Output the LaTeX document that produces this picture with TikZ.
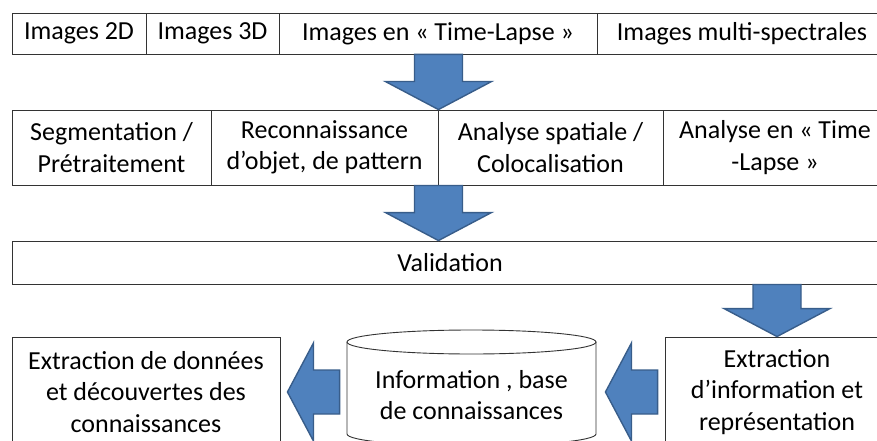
\documentclass[tikz,border=0pt]{standalone}
\usepackage{fontspec}
\setmainfont{Carlito}
\usetikzlibrary{calc}

\definecolor{arrowblue}{HTML}{4F81BD}
\definecolor{arrowedge}{HTML}{385D8A}

\tikzset{
    box/.style={rectangle, draw=black!80, line width=0.9pt, fill=white,
        inner sep=0pt, align=center, font=\fontsize{26}{31.5}\selectfont},
    flow/.style={fill=arrowblue, draw=arrowedge, line width=1.4pt, line join=miter},
}

% block arrows: #1 = tail, #2 = tip
\newcommand{\flowdown}[2]{%
    \filldraw[flow] ($(#1)+(-24,0)$) -- ($(#1)+(24,0)$) -- ($(#2)+(24,-28)$)
        -- ($(#2)+(53,-28)$) -- (#2) -- ($(#2)+(-53,-28)$) -- ($(#2)+(-24,-28)$) -- cycle;}
\newcommand{\flowleft}[2]{%
    \filldraw[flow] ($(#1)+(0,-22)$) -- ($(#2)+(26,-22)$) -- ($(#2)+(26,-49)$)
        -- (#2) -- ($(#2)+(26,49)$) -- ($(#2)+(26,22)$) -- ($(#1)+(0,22)$) -- cycle;}

\begin{document}
\begin{tikzpicture}[x=1pt,y=-1pt]
        \useasboundingbox (0,0) rectangle (877,441);
        \clip (0,0) rectangle (877,441);

        \begin{scope}[every node/.style={box}]
            % images
            \node[minimum width=134pt, minimum height=41pt] (img2d) at (79,33.5) {Images 2D};
            \node[minimum width=133pt, minimum height=41pt] (img3d) at (212.5,33.5) {Images 3D};
            \node[minimum width=318pt, minimum height=41pt] (imgtl) at (438,33.5) {Images en « Time-Lapse »};
            \node[minimum width=290pt, minimum height=41pt] (imgms) at (742,33.5) {Images multi-spectrales};

            % analyses
            \node[minimum width=199pt, minimum height=75pt] (seg) at (111.5,147.5) {Segmentation /\\Prétraitement};
            \node[minimum width=227pt, minimum height=75pt] (reco) at (324.5,147.5) {Reconnaissance\\d’objet, de pattern};
            \node[minimum width=225pt, minimum height=75pt] (spat) at (550.5,147.5) {Analyse spatiale /\\Colocalisation};
            \node[minimum width=224pt, minimum height=75pt] (tlan) at (775,147.5) {Analyse en « Time\\-Lapse »};

            \node[minimum width=876pt, minimum height=43pt] (valid) at (450,262.5) {Validation};

            \node[minimum width=268pt, minimum height=110pt] (extrdata) at (146,392) {Extraction de données\\et découvertes des\\connaissances};
            \node[minimum width=224pt, minimum height=110pt] (extrinfo) at (777,392) {Extraction\\d’information et\\représentation};
        \end{scope}

        % base de connaissances
        \draw[box] (347,342) -- (347,434) arc[start angle=180, end angle=0, x radius=124.5, y radius=12]
            -- (596,342);
        \draw[box] (471.5,342) ellipse[x radius=124.5, y radius=12];
        \node[box, draw=none, fill=none, minimum width=249pt] (kb) at (471.5,395) {Information , base\\de connaissances};

        \flowdown{reco.north east |- imgtl.south}{reco.north east}
        \flowdown{reco.south east}{valid.north -| reco.east}
        \flowdown{valid.south -| extrinfo.north}{extrinfo.north}
        \flowleft{$(kb.west |- extrdata.east)+(-7,0)$}{$(extrdata.east)+(7,0)$}
        \flowleft{$(extrinfo.west)+(-7,0)$}{$(kb.east |- extrinfo.west)+(9,0)$}
    \end{tikzpicture}
\end{document}
